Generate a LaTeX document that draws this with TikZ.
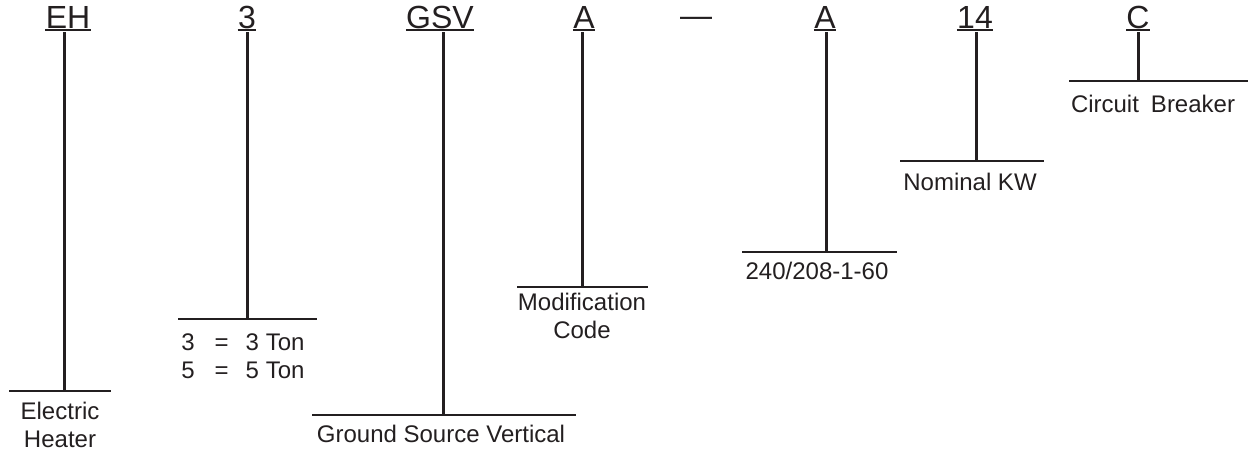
\documentclass[tikz,border=0pt]{standalone}
\usepackage{fontspec}
\setmainfont{Liberation Sans}
\usetikzlibrary{positioning}
\definecolor{ink}{HTML}{231F20}

\begin{document}
\begin{tikzpicture}[
	x=0.5pt, y=-0.5pt,
	code/.style={ % 顶部的型号代码
		font=\fontsize{16}{19}\selectfont, text=ink,
		inner sep=0pt, anchor=base
	},
	desc/.style={ % 下方的说明文字
		font=\fontsize{12}{14}\selectfont, text=ink,
		inner sep=0pt, anchor=north, align=center
	},
	stem/.style={draw=ink, line width=1.5pt},
	bar/.style={draw=ink, line width=1.3pt},
	uline/.style={draw=ink, line width=0.7pt}
]
	\useasboundingbox (0,0) rectangle (1251,455);
	%% 型号代码
	\node[code] (eh) at (68,28) {EH};
	\node[code] (ton) at (247,28) {3};
	\node[code] (gsv) at (440,28) {GSV};
	\node[code] (mod) at (584,28) {A};
	\node[code] (dash) at (696,26) {—};
	\node[code] (volt) at (825,28) {A};
	\node[code] (kw) at (975,28) {14};
	\node[code] (cb) at (1138,28) {C};
	% 下划线
	\draw[uline] ([yshift=-1pt]eh.base west) -- ([yshift=-1pt]eh.base east);
	\draw[uline] ([yshift=-1pt]ton.base west) -- ([yshift=-1pt]ton.base east);
	\draw[uline] ([yshift=-1pt]gsv.base west) -- ([yshift=-1pt]gsv.base east);
	\draw[uline] ([yshift=-1pt]mod.base west) -- ([yshift=-1pt]mod.base east);
	\draw[uline] ([yshift=-1pt]volt.base west) -- ([yshift=-1pt]volt.base east);
	\draw[uline] ([yshift=-1pt]kw.base west) -- ([yshift=-1pt]kw.base east);
	\draw[uline] ([yshift=-1pt]cb.base west) -- ([yshift=-1pt]cb.base east);

	%% 竖线的起点
	\coordinate (eh-t) at (64,32);
	\coordinate (ton-t) at (247,32);
	\coordinate (gsv-t) at (443,32);
	\coordinate (mod-t) at (582,32);
	\coordinate (volt-t) at (826,32);
	\coordinate (kw-t) at (976,32);
	\coordinate (cb-t) at (1138,32);
	%% 横线两端
	\coordinate (eh-l) at (9,391);    \coordinate (eh-r) at (111,391);
	\coordinate (ton-l) at (178,319); \coordinate (ton-r) at (317,319);
	\coordinate (gsv-l) at (312,415); \coordinate (gsv-r) at (576,415);
	\coordinate (mod-l) at (517,287); \coordinate (mod-r) at (648,287);
	\coordinate (volt-l) at (742,252);\coordinate (volt-r) at (897,252);
	\coordinate (kw-l) at (900,161);  \coordinate (kw-r) at (1044,161);
	\coordinate (cb-l) at (1069,81);  \coordinate (cb-r) at (1248,81);

	% 连线
	\draw[stem] (eh-t) -- (eh-t |- eh-l);
	\draw[stem] (ton-t) -- (ton-t |- ton-l);
	\draw[stem] (gsv-t) -- (gsv-t |- gsv-l);
	\draw[stem] (mod-t) -- (mod-t |- mod-l);
	\draw[stem] (volt-t) -- (volt-t |- volt-l);
	\draw[stem] (kw-t) -- (kw-t |- kw-l);
	\draw[stem] (cb-t) -- (cb-t |- cb-l);
	\draw[bar] (eh-l) -- (eh-r);
	\draw[bar] (ton-l) -- (ton-r);
	\draw[bar] (gsv-l) -- (gsv-r);
	\draw[bar] (mod-l) -- (mod-r);
	\draw[bar] (volt-l) -- (volt-r);
	\draw[bar] (kw-l) -- (kw-r);
	\draw[bar] (cb-l) -- (cb-r);

	%% 说明
	\node[desc] (eh-d) at (60,402) {Electric\\Heater};
	\node[desc, anchor=north west, align=left] (ton-d) at (181,333)
		{3\hspace{10pt}=\hspace{8.5pt}3 Ton\\5\hspace{10pt}=\hspace{8.5pt}5 Ton};
	\node[desc] (gsv-d) at (441,425) {Ground Source Vertical};
	\node[desc] (mod-d) at (582,293) {Modification\\Code};
	\node[desc] (volt-d) at (817,262) {240/208-1-60};
	\node[desc] (kw-d) at (970,173) {Nominal KW};
	\node[desc] (cb-d) at (1153,95) {Circuit\hspace{6pt}Breaker};
\end{tikzpicture}
\end{document}
